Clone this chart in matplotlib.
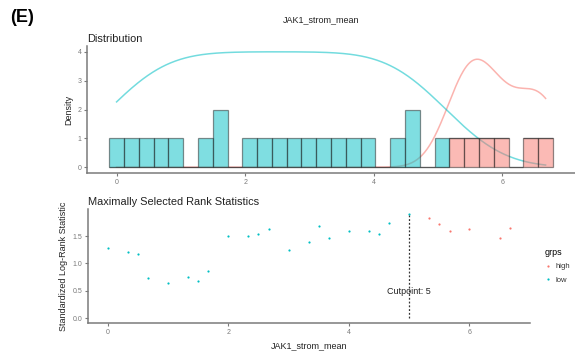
import numpy as np
import matplotlib
matplotlib.use("Agg")
import matplotlib.pyplot as plt
from matplotlib.lines import Line2D

plt.rcParams['font.family'] = ['Liberation Sans', 'DejaVu Sans']

# cutpoint candidates (JAK1_strom_mean values) and their standardized log-rank statistics
x_low = [0, 0.33, 0.5, 0.67, 1.0, 1.33, 1.5, 1.67, 2.0, 2.33, 2.5, 2.67, 3.0,
         3.33, 3.5, 3.67, 4.0, 4.33, 4.5, 4.67, 5.0]
stat_low = [1.29, 1.20, 1.18, 0.74, 0.65, 0.75, 0.68, 0.87, 1.51, 1.50, 1.53, 1.62, 1.24,
            1.40, 1.69, 1.46, 1.60, 1.60, 1.54, 1.74, 1.90]
x_high = [5.33, 5.5, 5.67, 6.0, 6.5, 6.67]
stat_high = [1.83, 1.72, 1.60, 1.63, 1.46, 1.65]
cutpoint = 5
groups = ['high', 'low']
colors = {'high': '#F8766D', 'low': '#00BFC4'}
xticks = [0, 2, 4, 6]
yticks_top = [0, 1, 2, 3, 4]
yticks_bot = [0.0, 0.5, 1.0, 1.5]

data = {'high': np.array(x_high), 'low': np.array(x_low)}
allx = np.concatenate([data['low'], data['high']])


def nrd0(v):
    sd = np.std(v, ddof=1)
    q1, q3 = np.percentile(v, [25, 75])
    lo = min(sd, (q3 - q1) / 1.34)
    return 0.9 * lo * len(v) ** -0.2


def kde_count(v, grid):
    # gaussian kde scaled to counts, like ggplot's ..count..
    bw = nrd0(v)
    z = (grid[:, None] - v[None, :]) / bw
    return np.exp(-0.5 * z ** 2).sum(axis=1) / (bw * np.sqrt(2 * np.pi))


def expand(lo, hi, f=0.05):
    d = (hi - lo) * f
    return lo - d, hi + d


fig = plt.figure(figsize=(5.75, 3.57), dpi=100)
ax1 = fig.add_axes([0.1513, 0.5154, 0.849, 0.3556])
ax2 = fig.add_axes([0.1525, 0.0944, 0.7692, 0.3202])

# ---- distribution panel
nbins = 30
w = (allx.max() - allx.min()) / (nbins - 1)
edges = allx.min() - w / 2 + w * np.arange(nbins + 1)
grid = np.linspace(allx.min(), allx.max(), 512)
ymax = 0
for g in groups:
    dens = kde_count(data[g], grid)
    ymax = max(ymax, dens.max())
    ax1.plot(grid, dens, color=colors[g], lw=1.1, alpha=0.55, zorder=1)
cnt, _, _ = ax1.hist([data['high'], data['low']], bins=edges, stacked=True,
                     color=[colors['high'], colors['low']], alpha=0.5,
                     edgecolor='#222222', linewidth=0.9, zorder=2)
ax1.set_xlim(*expand(edges[0], edges[-1]))
ax1.set_ylim(*expand(0, max(ymax, cnt[-1].max())))
ax1.set_xticks(xticks)
ax1.set_yticks(yticks_top)
ax1.set_ylabel('Density', fontsize=6.5, color='#222222', labelpad=3)
ax1.set_title('Distribution', loc='left', fontsize=7.9, color='#222222', pad=3)

# ---- maximally selected rank statistics panel
ax2.scatter(x_high, stat_high, s=2.5, color=colors['high'], lw=0, zorder=3)
ax2.scatter(x_low, stat_low, s=2.5, color=colors['low'], lw=0, zorder=3)
smax = max(stat_low + stat_high)
ax2.plot([cutpoint, cutpoint], [0, smax], color='#333333', lw=0.9, ls=(0, (1.5, 1.5)), zorder=2)
ax2.text(cutpoint, 0.48, f'Cutpoint: {cutpoint}', ha='center', va='center',
         fontsize=6.5, color='#222222')
ax2.set_xlim(*expand(min(allx), max(allx)))
ax2.set_ylim(*expand(0, smax))
ax2.set_xticks(xticks)
ax2.set_yticks(yticks_bot)
ax2.set_yticklabels([f'{v:.1f}' for v in yticks_bot])
ax2.set_xlabel('JAK1_strom_mean', fontsize=6.5, color='#222222', labelpad=4)
ax2.set_ylabel('Standardized Log-Rank Statistic', fontsize=6.5, color='#222222', labelpad=3)
ax2.set_title('Maximally Selected Rank Statistics', loc='left', fontsize=7.9,
              color='#222222', pad=3)

for ax in (ax1, ax2):
    for s in ('top', 'right'):
        ax.spines[s].set_visible(False)
    for s in ('left', 'bottom'):
        ax.spines[s].set_color('#7a7a7a')
        ax.spines[s].set_linewidth(1.1)
    ax.tick_params(labelsize=5, colors='#7a7a7a', length=2, width=0.8, pad=2)

handles = [Line2D([], [], marker='o', ls='', markersize=1.6, color=colors[g],
                  markeredgewidth=0) for g in groups]
leg = fig.legend(handles, groups, title='grps', loc='upper left',
                 bbox_to_anchor=(0.935, 0.325), frameon=False, fontsize=5.5,
                 title_fontsize=6.5, handletextpad=0.6, labelspacing=0.8,
                 handlelength=0.8, alignment='left')
for t in leg.get_texts():
    t.set_color('#333333')

fig.text(0.559, 0.944, 'JAK1_strom_mean', ha='center', va='center', fontsize=6.5, color='#222222')
fig.text(0.017, 0.95, '(E)', ha='left', va='center', fontsize=13, fontweight='bold')

fig.savefig('out.png', dpi=100)
